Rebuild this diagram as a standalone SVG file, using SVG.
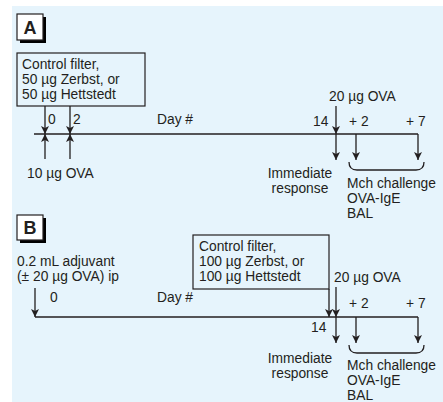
<svg xmlns="http://www.w3.org/2000/svg" width="443" height="402" viewBox="0 0 443 402">
<style>
text{font-family:"Liberation Sans",Arial,sans-serif;font-size:13.8px;fill:#231f20}
.lbl{font-weight:bold;font-size:18px;text-anchor:middle}
.mid{text-anchor:middle}
.box{fill:none;stroke:#231f20;stroke-width:1.2}
.ln{fill:none;stroke:#231f20;stroke-width:1.3}
.arr{fill:none;stroke:#231f20;stroke-width:1.3;marker-end:url(#ah)}
</style>
<defs>
<marker id="ah" viewBox="0 0 10 10" refX="10" refY="5" markerUnits="userSpaceOnUse" markerWidth="9" markerHeight="8" orient="auto">
<path d="M0,0 L10,5 L0,10 L2.5,5 Z" fill="#231f20"/>
</marker>
</defs>
<rect x="12" y="6" width="431" height="396" fill="#e6f4fc"/>

<g id="panelA-label">
<rect x="20" y="17" width="26" height="26" fill="#000"/>
<rect x="17" y="14" width="26" height="26" fill="#fff" stroke="#231f20" stroke-width="1.2"/>
<text class="lbl" x="30" y="34">A</text>
</g>
<g id="A-filter">
<rect class="box" x="17" y="53" width="128" height="53" fill="#fff"/>
<text x="22" y="69">Control filter,</text>
<text x="22" y="84">50 µg Zerbst, or</text>
<text x="22" y="99">50 µg Hettstedt</text>
</g>
<g id="A-labels">
<text x="48" y="124">0</text>
<text x="73" y="124">2</text>
<text x="157" y="124">Day #</text>
<text x="27" y="178">10 µg OVA</text>
<text x="329" y="101">20 µg OVA</text>
<text x="313" y="126">14</text>
<text x="349" y="126">+ 2</text>
<text x="406" y="126">+ 7</text>
<text class="mid" x="300" y="178">Immediate</text>
<text class="mid" x="300" y="193">response</text>
<text x="347" y="188">Mch challenge</text>
<text x="347" y="203">OVA-IgE</text>
<text x="347" y="218">BAL</text>
</g>

<g id="panelB-label">
<rect x="20" y="218" width="26" height="25" fill="#000"/>
<rect x="17" y="215" width="26" height="25" fill="#fff" stroke="#231f20" stroke-width="1.2"/>
<text class="lbl" x="30" y="234">B</text>
</g>
<g id="B-filter">
<rect class="box" x="193" y="235" width="136" height="54" fill="#fff"/>
<text x="199" y="251">Control filter,</text>
<text x="199" y="266">100 µg Zerbst, or</text>
<text x="199" y="281">100 µg Hettstedt</text>
</g>
<g id="B-labels">
<text x="17" y="266">0.2 mL adjuvant</text>
<text x="17" y="281">(± 20 µg OVA) ip</text>
<text x="50" y="302">0</text>
<text x="157" y="302">Day #</text>
<text x="334" y="282">20 µg OVA</text>
<text x="311" y="332">14</text>
<text x="349" y="308">+ 2</text>
<text x="406" y="308">+ 7</text>
<text class="mid" x="300" y="363">Immediate</text>
<text class="mid" x="300" y="378">response</text>
<text x="347" y="370">Mch challenge</text>
<text x="347" y="385">OVA-IgE</text>
<text x="347" y="400">BAL</text>
</g>

<g id="connectors">
<path class="ln" d="M34,134 H418"/>
<path class="arr" d="M45,106 V134"/>
<path class="arr" d="M70,106 V134"/>
<path class="arr" d="M45,159 V134"/>
<path class="arr" d="M70,159 V134"/>
<path class="arr" d="M336,106 V134"/>
<path class="arr" d="M336,134 V160"/>
<path class="arr" d="M356,134 V160"/>
<path class="arr" d="M418,134 V160"/>
<path class="ln" d="M349,162 Q349,170 357,170 H416 Q424,170 424,162"/>

<path class="ln" d="M35,317 H418"/>
<path class="arr" d="M35,288 V317"/>
<path class="arr" d="M329,289 V317"/>
<path class="arr" d="M336,287 V317"/>
<path class="arr" d="M336,317 V343"/>
<path class="arr" d="M356,317 V343"/>
<path class="arr" d="M418,317 V343"/>
<path class="ln" d="M349,345 Q349,353 357,353 H416 Q424,353 424,345"/>
</g>
</svg>
